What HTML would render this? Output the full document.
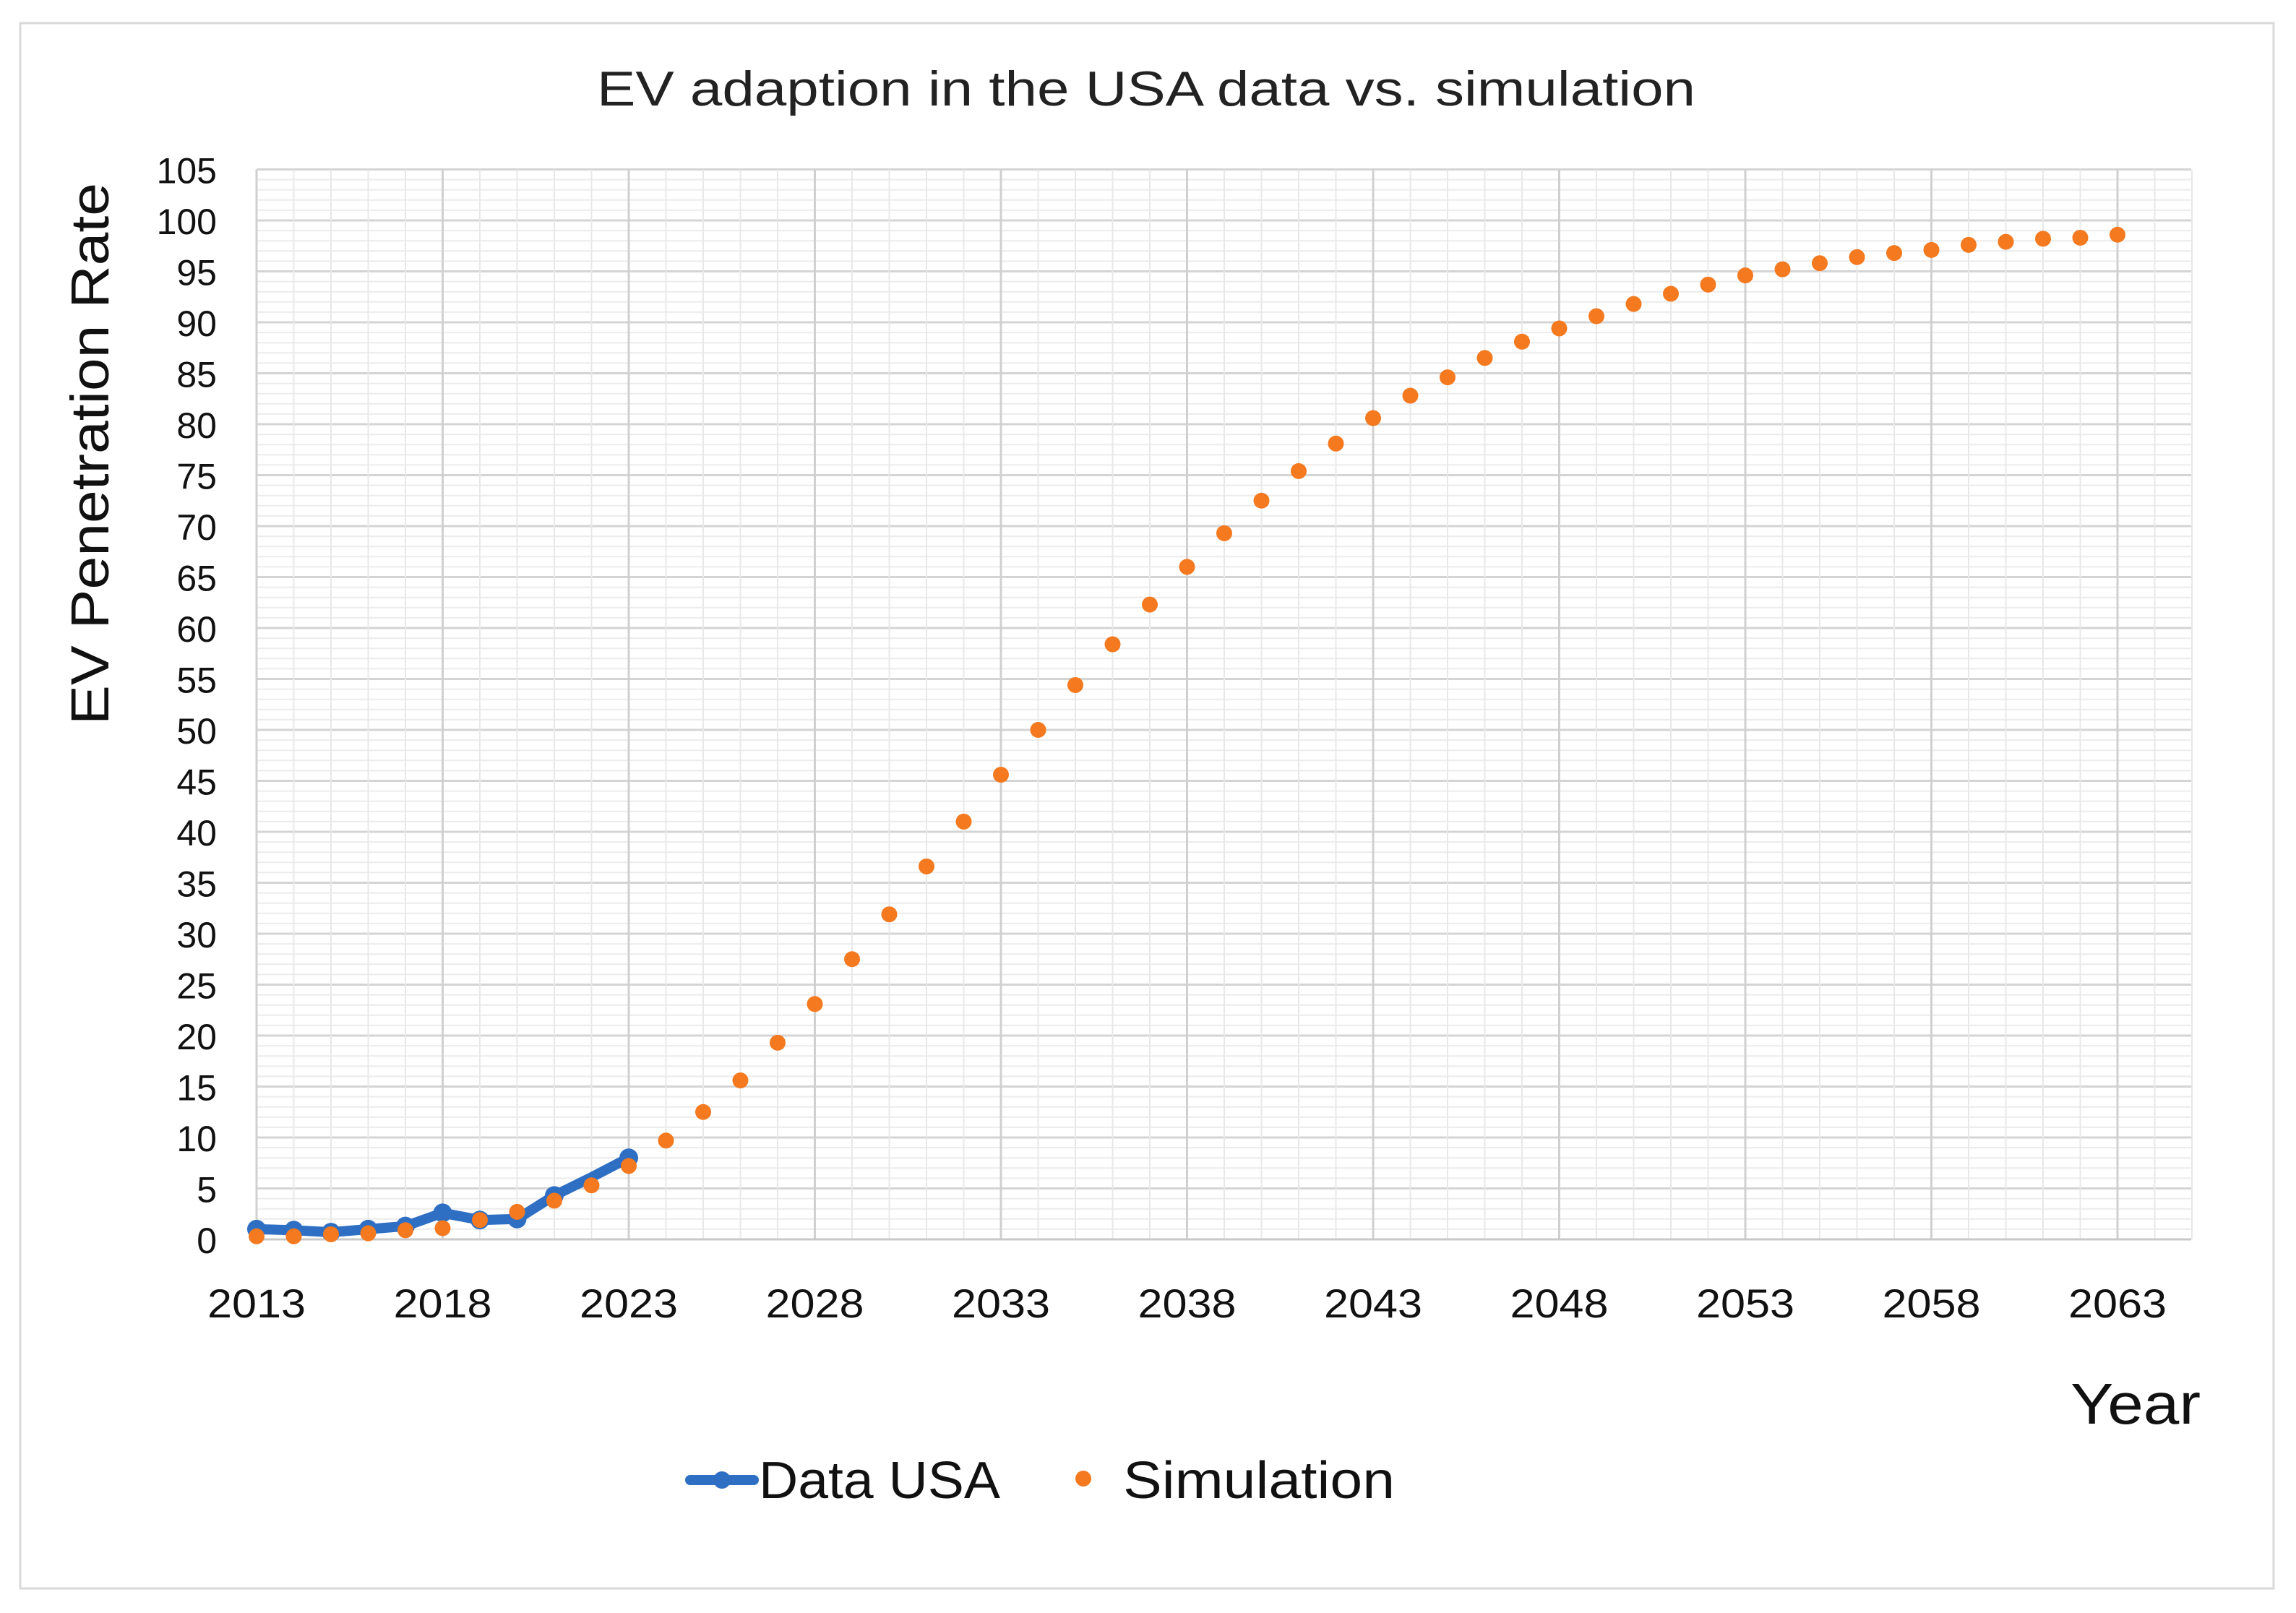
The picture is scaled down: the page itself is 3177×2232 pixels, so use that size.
<!DOCTYPE html>
<html><head><meta charset="utf-8"><style>
html,body{margin:0;padding:0;background:#fff}
svg{display:block}
</style></head><body>
<svg id="chart" width="3177" height="2232" viewBox="0 0 3177 2232" xmlns="http://www.w3.org/2000/svg" font-family="'Liberation Sans', sans-serif">
<rect x="28" y="32" width="3118" height="2166" fill="#fff" stroke="#d9d9d9" stroke-width="3"/>
<text x="1586" y="146" font-size="68" text-anchor="middle" fill="#222" textLength="1520" lengthAdjust="spacingAndGlyphs">EV adaption in the USA data vs. simulation</text>
<text transform="translate(150,628) rotate(-90)" font-size="74" text-anchor="middle" fill="#111" textLength="750" lengthAdjust="spacingAndGlyphs">EV Penetration Rate</text>
<text x="2955" y="1970" font-size="80" text-anchor="middle" fill="#111" textLength="180" lengthAdjust="spacingAndGlyphs">Year</text>
<g id="grid"></g>
<g id="axes"></g>
<g id="series"></g>
<g>
<g>
<line x1="955" y1="2048" x2="1043" y2="2048" stroke="#2e6fc4" stroke-width="14" stroke-linecap="round"/>
<circle cx="999" cy="2048" r="12" fill="#2e6fc4"/>
<text x="1050" y="2073" font-size="72" fill="#111" textLength="334" lengthAdjust="spacingAndGlyphs">Data USA</text>
</g>
<g>
<circle cx="1499" cy="2046" r="11" fill="#f4791f"/>
<text x="1554" y="2073" font-size="72" fill="#111" textLength="376" lengthAdjust="spacingAndGlyphs">Simulation</text>
</g>
</g>
</svg>
<script>
const dataYears=[2013,2014,2015,2016,2017,2018,2019,2020,2021,2022,2023];
const dataUSA=[1.0,0.9,0.7,1.0,1.3,2.6,1.9,2.0,4.3,6.1,8.0];
const simYears=[];for(let y=2013;y<=2063;y++)simYears.push(y);
const simValues=[0.3,0.3,0.5,0.6,0.9,1.1,1.9,2.7,3.8,5.3,7.2,9.7,12.5,15.6,19.3,23.1,27.5,31.9,36.6,41.0,45.6,50.0,54.4,58.4,62.3,66.0,69.3,72.5,75.4,78.1,80.6,82.8,84.6,86.5,88.1,89.4,90.6,91.8,92.8,93.7,94.6,95.2,95.8,96.4,96.8,97.1,97.6,97.9,98.2,98.3,98.6];
const xTicks=[2013,2018,2023,2028,2033,2038,2043,2048,2053,2058,2063];
const yTicks=[0,5,10,15,20,25,30,35,40,45,50,55,60,65,70,75,80,85,90,95,100,105];
const NS='http://www.w3.org/2000/svg';
const X0=355,YR0=2013,PXY=51.5,Y0=1715,PXU=14.1,RIGHT=3032;
const sx=v=>X0+(v-YR0)*PXY, sy=v=>Y0-v*PXU;
function mk(tag,attrs,parent){const e=document.createElementNS(NS,tag);for(const k in attrs)e.setAttribute(k,attrs[k]);parent.appendChild(e);return e;}
const grid=document.getElementById('grid'),axes=document.getElementById('axes'),ser=document.getElementById('series');
for(let v=0;v<=105;v++){const l=mk('line',{x1:X0,x2:RIGHT,y1:sy(v),y2:sy(v),stroke:v%5===0?'#d4d4d4':'#ececec','stroke-width':v%5===0?3:2},grid);

}
for(let y=2013;y<=2065;y++){const l=mk('line',{x1:sx(y),x2:sx(y),y1:sy(105),y2:Y0,stroke:(y-2013)%5===0?'#d0d0d0':'#e8e8e8','stroke-width':(y-2013)%5===0?3:2},grid);

}
const xa=mk('line',{x1:X0,x2:RIGHT,y1:Y0,y2:Y0,stroke:'#c8c8c8','stroke-width':3},axes);


yTicks.forEach(v=>{const t=mk('text',{x:300,y:sy(v)+19,'font-size':50,'text-anchor':'end',fill:'#111'},axes);t.textContent=v;

});
xTicks.forEach(v=>{const t=mk('text',{x:sx(v),y:1823,'font-size':56,'text-anchor':'middle',fill:'#111',textLength:136,lengthAdjust:'spacingAndGlyphs'},axes);t.textContent=v;

});
const pts=dataYears.map((y,i)=>sx(y)+','+sy(dataUSA[i])).join(' ');
const pl=mk('polyline',{points:pts,fill:'none',stroke:'#2e6fc4','stroke-width':14,'stroke-linejoin':'round','stroke-linecap':'round'},ser);


dataYears.forEach((y,i)=>{if(y===2022)return;const c=mk('circle',{cx:sx(y),cy:sy(dataUSA[i]),r:13,fill:'#2e6fc4'},ser);

});
simYears.forEach((y,i)=>{const c=mk('circle',{cx:sx(y),cy:sy(simValues[i]),r:11,fill:'#f4791f'},ser);

});
</script>
</body></html>
